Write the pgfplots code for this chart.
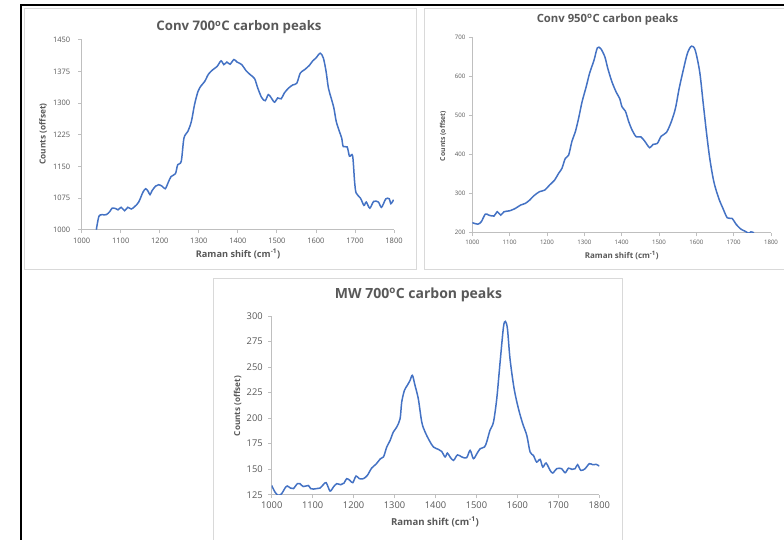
\documentclass[border=0pt]{standalone}
\usepackage{pgfplots}
\pgfplotsset{compat=1.18}
\usepackage{fontspec}
\setmainfont{Open Sans}
\definecolor{txtgray}{HTML}{595959}
\definecolor{axgray}{HTML}{BFBFBF}
\definecolor{framegray}{HTML}{D9D9D9}
\definecolor{xlblue}{HTML}{4472C4}
\newcommand{\fs}[1]{\fontsize{#1}{#1}\selectfont}
\pgfplotsset{
  excel/.style={
    scale only axis,
    axis lines*=left,
    axis line style={draw=axgray, line width=0.8pt},
    tick style={draw=axgray, line width=0.8pt},
    major tick length=3.5pt,
    tick align=outside,
    xmin=1000, xmax=1800,
    xtick={1000,1100,...,1800},
    scaled ticks=false,
    /pgf/number format/.cd, 1000 sep={}, assume math mode=true, /pgfplots/.cd,
    tick label style={text=txtgray},
    clip=true,
  },
  curve/.style={color=xlblue, line width=1.5pt, smooth, tension=0.5, no markers},
}
\begin{document}
\begin{tikzpicture}
\useasboundingbox (0,0) rectangle (784pt,539pt);
\clip (0,0) rectangle (784pt,539pt);
\fill[white] (0,0) rectangle (784pt,539pt);
% panel frames
\draw[framegray, line width=0.8pt] (24pt,270pt) rectangle (416pt,531pt);
\draw[framegray, line width=0.8pt] (424pt,270pt) rectangle (800pt,531pt);
\draw[framegray, line width=0.8pt] (213pt,-10pt) rectangle (622pt,261pt);
% outer black border
\draw[black, line width=2pt] (21pt,-5pt) -- (21pt,534pt) -- (800pt,534pt);

% ---------- Conv 700 ----------
\begin{axis}[excel,
  at={(81.7pt,309.3pt)}, anchor=south west,
  width=312.3pt, height=190pt,
  ymin=1000, ymax=1450,
  ytick={1000,1075,...,1450},
  tick label style={font=\fs{7.5}},
  yticklabel style={xshift=-4.5pt},
  xticklabel style={yshift=-1pt},
]
\addplot[curve] coordinates {
(1037.5,1000) (1044,1031.6) (1052,1035.5) (1063,1035.5) (1072,1043) (1078,1051)
(1087,1050) (1093,1047) (1101,1053) (1110,1045) (1118,1053) (1127,1049)
(1136,1055) (1146,1065.5) (1157,1089) (1164,1097) (1170,1091) (1175,1083)
(1180,1092) (1189,1103) (1197,1106.6) (1206,1103) (1214,1097) (1221,1110.5)
(1229,1126) (1240,1132.6) (1246,1154) (1255,1162) (1262,1217) (1272,1233)
(1281,1256.6) (1289,1296) (1298,1327.6) (1306,1341) (1315,1351) (1325,1368.7)
(1336,1379) (1347,1386.8) (1357,1400) (1364,1391) (1372,1397) (1380,1392)
(1390,1403) (1398,1397) (1410,1391) (1421,1376.6) (1432,1367) (1443,1357.6)
(1451,1335.5) (1461,1313) (1470,1305.5) (1478,1320) (1485,1313) (1494,1302)
(1502,1312) (1511,1310) (1519,1323.7) (1530,1335.5) (1541,1343) (1551,1347)
(1560,1371) (1571,1379) (1583,1389) (1592,1400) (1600,1406.6) (1611,1418)
(1619,1406.6) (1626,1375) (1632,1335.5) (1639,1312) (1646,1288) (1652,1256.6)
(1660,1233) (1666,1217) (1670,1197) (1680,1196) (1686,1174) (1694,1175)
(1699,1114.5) (1703,1087) (1714,1075) (1723,1057.6) (1729,1065.5) (1738,1051)
(1748,1067) (1760,1065.5) (1768,1053) (1779,1073) (1788,1073) (1792,1061.6)
(1799,1071)
};
\end{axis}
\node[text=txtgray, font=\fs{13.2}\bfseries] at (239pt,512pt) {Conv 700\textsuperscript{o}C carbon peaks};
\node[text=txtgray, font=\fs{8.3}\bfseries, rotate=90] at (43pt,405pt) {Counts (offset)};
\node[text=txtgray, font=\fs{9.2}\bfseries] at (238pt,285pt) {Raman shift (cm\textsuperscript{-1})};

% ---------- Conv 950 ----------
\begin{axis}[excel,
  at={(472.3pt,306.3pt)}, anchor=south west,
  width=298.7pt, height=195.4pt,
  ymin=200, ymax=700,
  ytick={200,300,...,700},
  tick label style={font=\fs{6.1}},
  yticklabel style={xshift=0pt},
]
\addplot[curve] coordinates {
(1000,225.6) (1015,222) (1024,228) (1035,247.7) (1044,245) (1058,242.6)
(1067,253.7) (1076,245) (1085,253.7) (1100,256) (1115,262) (1129.5,270.8)
(1142,275) (1153.6,283.5) (1165,294.6) (1180,305) (1194,309) (1207,322)
(1220.5,334.7) (1231,351.7) (1240,364.5) (1249,390) (1258,398.6) (1267,434.4)
(1276,458.3) (1285,494) (1294,535) (1305,573.4) (1314,607.5) (1326,641.6)
(1335,673) (1344,671) (1355,650) (1363,620) (1374,586) (1385.7,559)
(1394.6,543.6) (1401,522) (1410,511) (1419,484) (1428,462.6) (1439,445.5)
(1451,445.5) (1461.6,434.4) (1475,417.4) (1484,426) (1495.5,428.5) (1506,447)
(1520,456.6) (1533,484) (1544,518) (1554,569) (1564,611.8) (1576,658.6)
(1587,677.4) (1597,667) (1609,611.8) (1618,535) (1627,458) (1636,390)
(1647,330) (1660,288) (1671.4,262) (1683,238) (1695.5,236.7) (1707,221)
(1719,209.4) (1729.5,204.3) (1737,200) (1741,198.5) (1746,202) (1751,201.5)
(1756,196) (1770,188) (1800,182)
};
\end{axis}
\node[text=txtgray, font=\fs{11.3}\bfseries] at (607.5pt,519pt) {Conv 950\textsuperscript{o}C carbon peaks};
\node[text=txtgray, font=\fs{6.8}\bfseries, rotate=90] at (443pt,403pt) {Counts (offset)};
\node[text=txtgray, font=\fs{8}\bfseries] at (621.7pt,283.3pt) {Raman shift (cm\textsuperscript{-1})};

% ---------- MW 700 ----------
\begin{axis}[excel,
  at={(271.7pt,44.3pt)}, anchor=south west,
  width=327.6pt, height=178.7pt,
  ymin=125, ymax=300,
  ytick={125,150,...,300},
  tick label style={font=\fs{9.3}},
  yticklabel style={xshift=-2pt},
]
\addplot[curve] coordinates {
(1000,134) (1008,127.6) (1016,124.3) (1024.4,126) (1032.5,131.5) (1038,133.5)
(1046,131.5) (1053,131) (1062.7,135.8) (1069,135.8) (1077,133) (1089.6,134)
(1095,131) (1102,130.5) (1110,131) (1118,131.5) (1126,134.8) (1133,136.8)
(1142.5,128.6) (1150.6,132.5) (1158.8,135.8) (1168.6,134.8) (1176.7,136.4)
(1183,140.7) (1191,139) (1198,136.8) (1206,143.3) (1214,140.7) (1224,140.7)
(1233.7,144) (1244,151) (1255,155) (1265,160) (1273,162) (1281,171.7)
(1289,178) (1297,186.4) (1305,191) (1313.5,199.4) (1317.5,215.7) (1324,227)
(1331,232) (1338,237) (1343.6,241.9) (1350,232) (1358,219) (1366.5,196)
(1374.6,186.4) (1385,178) (1395,171.7) (1407,169.4) (1415,167.4) (1423.5,162)
(1429,165.8) (1435.5,162) (1444,158.6) (1453.6,164) (1464,162) (1476,161.2)
(1484.5,168.4) (1492.6,160.3) (1500.8,165) (1509,170) (1519.5,171.7)
(1525,176.6) (1533,188) (1541.5,196) (1549.6,219) (1557.8,255) (1566,289.2)
(1570.7,294.7) (1575.7,287.5) (1582,258) (1592,228.8) (1602.6,209.2)
(1613,194.5) (1623,183) (1631,166.8) (1639,163.5) (1647,157) (1655.5,159.6)
(1662,152) (1670,156) (1680,148.8) (1686.5,146.2) (1696,150.5) (1708,150.5)
(1716.6,146.5) (1724.8,151) (1733,149.8) (1741,150.5) (1747,154.4)
(1755,148.8) (1765.5,150.5) (1775.6,155.4) (1783.7,154.4) (1792.6,154.7)
(1800,153)
};
\end{axis}
\node[text=txtgray, font=\fs{14}\bfseries] at (418.5pt,244pt) {MW 700\textsuperscript{o}C carbon peaks};
\node[text=txtgray, font=\fs{8.2}\bfseries, rotate=90] at (237.7pt,133pt) {Counts (offset)};
\node[text=txtgray, font=\fs{9.6}\bfseries] at (435pt,17.3pt) {Raman shift (cm\textsuperscript{-1})};
\end{tikzpicture}
\end{document}
